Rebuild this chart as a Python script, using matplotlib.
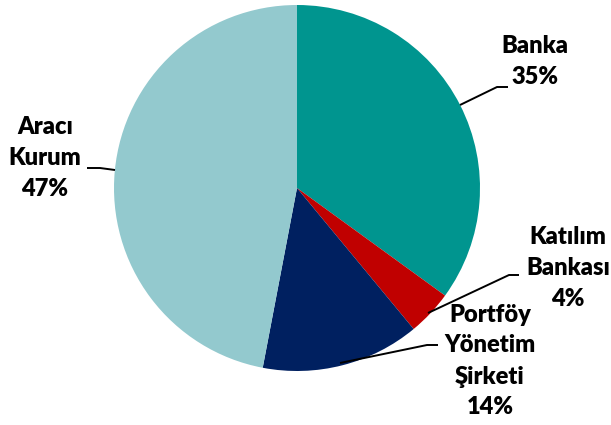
import numpy             as np
import matplotlib
matplotlib.use('Agg')
import matplotlib.pyplot as plt

# slices clockwise from 12 o'clock
labels  = ['Banka\n35%', 'Katılım\nBankası\n4%', 'Portföy\nYönetim\nŞirketi\n14%', 'Aracı\nKurum\n47%']
shares  = [35, 4, 14, 47]
colors  = ['#00958F', '#C00000', '#002060', '#93C9CE']

# label centres and leader lines (pixel coordinates, y from the top)
text_xy = [(535, 61), (568, 268), (490, 361), (45, 158)]
leaders = [[(460, 105), (497, 87), (508, 87)],
           [(428, 313), (509, 275), (519, 275)],
           [(340, 363), (427, 345), (438, 345)],
           [(115, 170), (100, 168), (87, 168)]]

W, H   = 611, 425
cx, cy = 297, 188
radius = 183

fig = plt.figure(figsize=(W / 100, H / 100), dpi=100)
ax  = fig.add_axes([0, 0, 1, 1])

wedges, _ = ax.pie(shares, colors=colors, startangle=90, counterclock=False,
                   center=(cx, H - cy), radius=radius,
                   wedgeprops=dict(linewidth=0))

for i in range(len(shares)):
    xs = [p[0] for p in leaders[i]]
    ys = [H - p[1] for p in leaders[i]]
    ax.plot(xs, ys, color='black', linewidth=1.4, solid_capstyle='butt')
    tx, ty = text_xy[i]
    ax.text(tx, H - ty, labels[i], ha='center', va='center', fontsize=17,
            fontweight='heavy', family='Lato', linespacing=1.5, color='black')

ax.set_xlim(0, W)
ax.set_ylim(0, H)
ax.set_aspect('equal')
ax.axis('off')

fig.savefig('out.png', dpi=100)
